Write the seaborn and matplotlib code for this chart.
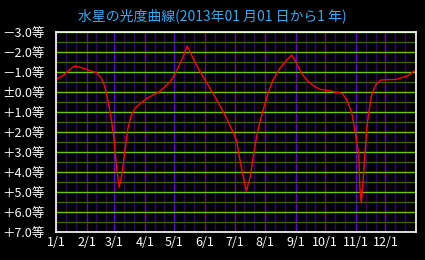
import matplotlib
matplotlib.use("Agg")
import matplotlib.pyplot as plt
import seaborn as sns
import pandas as pd

# ---- data (day of year from 2013-01-01, magnitude) ----
days = [0, 8, 14, 19, 26, 34, 41, 46, 49, 51, 53, 55, 57, 59, 61, 64, 67, 70,
        73, 76, 80, 86, 92, 105, 116, 122, 129, 133, 139, 144, 149, 156, 163,
        168, 173, 178, 183, 187, 190, 193, 197, 200, 204, 207, 210, 215, 220,
        227, 234, 239, 244, 249, 254, 258, 263, 268, 278, 290, 295, 300, 303,
        305, 307, 308, 309.5, 311, 313, 315, 317, 320, 324, 329, 345, 356, 364]
mags = [-0.63, -0.85, -1.12, -1.3, -1.22, -1.07, -0.97, -0.69, -0.35, 0.07,
        0.5, 1.05, 1.7, 2.4, 3.55, 4.78, 4.05, 2.9, 1.8, 1.2, 0.82, 0.55, 0.32,
        -0.02, -0.52, -1.02, -1.77, -2.3, -1.68, -1.2, -0.77, -0.2, 0.4, 0.85,
        1.32, 1.85, 2.4, 3.55, 4.3, 4.95, 4.23, 3.23, 2.07, 1.45, 0.9, 0.07,
        -0.6, -1.18, -1.6, -1.85, -1.43, -0.93, -0.62, -0.43, -0.25, -0.13,
        -0.05, 0.07, 0.4, 1.07, 1.9, 2.55, 3.07, 4.73, 5.55, 4.73, 3.23, 1.9,
        1.05, 0.15, -0.35, -0.6, -0.63, -0.8, -1.07]

month_starts = [0, 31, 59, 90, 120, 151, 181, 212, 243, 273, 304, 334]
month_labels = ["1/1", "2/1", "3/1", "4/1", "5/1", "6/1", "7/1", "8/1",
                "9/1", "10/1", "11/1", "12/1"]
y_ticks = [-3, -2, -1, 0, 1, 2, 3, 4, 5, 6, 7]
y_labels = ["－3.0等", "－2.0等", "－1.0等", "±0.0等", "＋1.0等", "＋2.0等",
            "＋3.0等", "＋4.0等", "＋5.0等", "＋6.0等", "＋7.0等"]
title = "水星の光度曲線(2013年01 月01 日から1 年)"

df = pd.DataFrame({"day": days, "mag": mags})

sns.set_theme(style="dark")
plt.rcParams['font.family'] = ['Noto Sans CJK JP', 'DejaVu Sans']

fig = plt.figure(figsize=(4.25, 2.6), dpi=100, facecolor="black")
ax = fig.add_axes([56/425, (260-232)/260, 360/425, 200/260])
ax.set_facecolor("black")

# grid: vertical lines on days 1, 11, 21 of each month
for m in month_starts:
    ax.axvline(m, color="#6600cc", lw=1, zorder=1)
    ax.axvline(m + 10, color="#330066", lw=1, zorder=1)
    ax.axvline(m + 20, color="#330066", lw=1, zorder=1)
# horizontal lines each 0.5 magnitude
for k in range(-6, 15):
    v = k / 2
    col = "#66cc00" if k % 2 == 0 else "#336600"
    ax.axhline(v, color=col, lw=1, zorder=2)

sns.lineplot(data=df, x="day", y="mag", ax=ax, color="#ff0000", lw=1, zorder=3)

ax.set_xlim(0, 365)
ax.set_ylim(7, -3)
ax.set_xticks(month_starts)
ax.set_xticklabels(month_labels)
ax.set_yticks(y_ticks)
ax.set_yticklabels(y_labels)
ax.tick_params(axis="both", length=0, colors="white", labelsize=9)
ax.tick_params(axis="y", pad=8)
ax.tick_params(axis="x", pad=3)
ax.set_xlabel("")
ax.set_ylabel("")
ax.grid(False)
for s in ax.spines.values():
    s.set_visible(True)
    s.set_color("white")
    s.set_linewidth(1.2)
    s.set_zorder(5)

fig.text(212/425, 1 - 16/260, title, color="#33aaee", fontsize=10,
         ha="center", va="center")

fig.savefig("out.png", dpi=100, facecolor="black")
